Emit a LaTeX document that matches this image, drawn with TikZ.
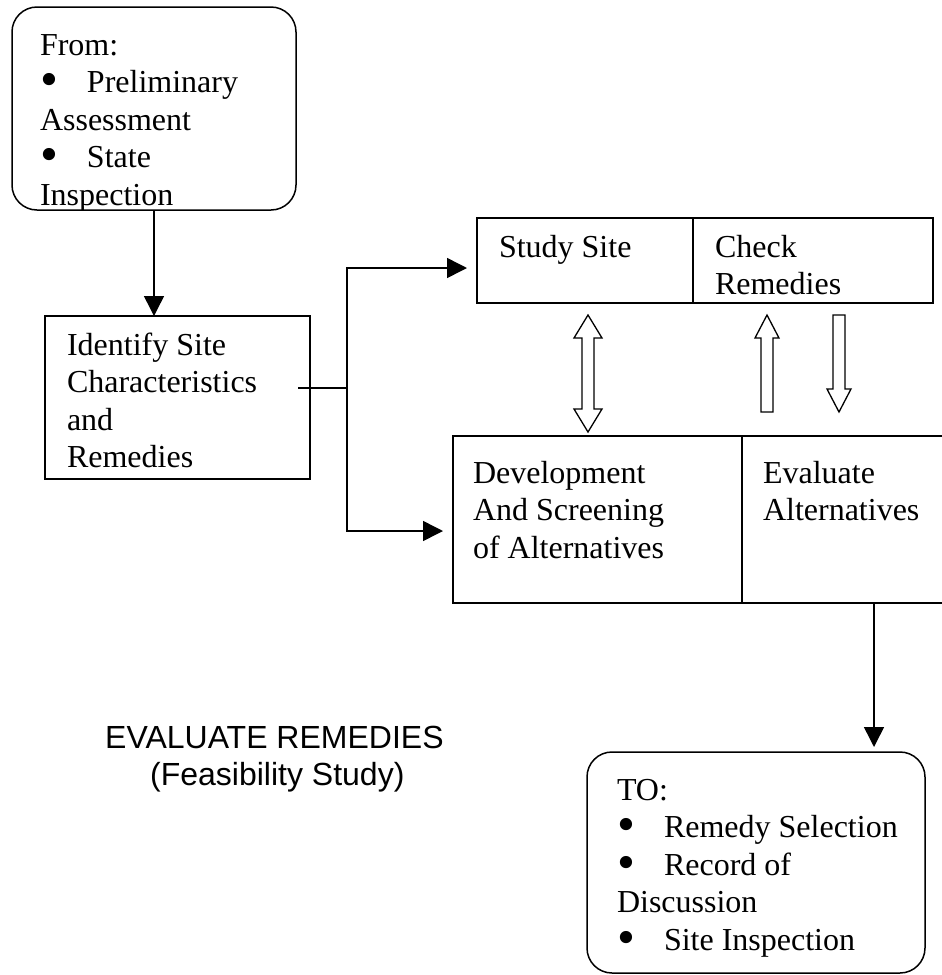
\documentclass[tikz,border=0pt]{standalone}
\usepackage{graphicx}
\usepackage{fontspec}
\setmainfont{Liberation Serif}
\newfontfamily\arialfont{Liberation Sans}
\usetikzlibrary{arrows.meta}
\newcommand{\bul}{\makebox[47pt][l]{\raisebox{-4pt}[0pt][0pt]{\scalebox{1.6}{\textbullet}}}}
\begin{document}
\begin{tikzpicture}[x=1pt,y=-1pt,
  boxstyle/.style={draw, line width=1.5pt, inner sep=0pt, outer sep=0pt, anchor=north west},
  txt/.style={anchor=base west, inner sep=0pt, outer sep=0pt, font=\fontsize{32}{37.5}\selectfont},
  conn/.style={line width=1.5pt},
  tip/.style={-{Triangle[length=20pt,width=20pt]}},
  hollow/.style={draw, line width=1.3pt, fill=white, line join=miter}]
\useasboundingbox (0,0) rectangle (942,975);

% boxes
\node[boxstyle, rounded corners=25pt, minimum width=284pt, minimum height=203pt] (from) at (12,7) {};
\node[boxstyle, minimum width=265pt, minimum height=163pt] (ident) at (45,316) {};
\node[boxstyle, minimum width=216pt, minimum height=85pt] (study) at (477,218) {};
\node[boxstyle, minimum width=240pt, minimum height=85pt] (check) at (693,218) {};
\node[boxstyle, minimum width=289pt, minimum height=167pt] (dev) at (453,436) {};
\node[boxstyle, minimum width=204pt, minimum height=167pt] (eval) at (742,436) {};
\node[boxstyle, rounded corners=25pt, minimum width=338pt, minimum height=221pt] (to) at (587,752) {};

% texts
\begin{scope}
\clip[rounded corners=25pt] (12,7) rectangle (296,210);
\node[txt] (fromtxt) at (40,55) {\parbox[t]{250pt}{From:\\\bul Preliminary\\Assessment\\\bul State\\Inspection}};
\end{scope}
\node[txt] (identtxt) at (67,355) {\parbox[t]{240pt}{Identify Site\\Characteristics\\and\\Remedies}};
\node[txt] (studytxt) at (499,257) {Study Site};
\node[txt] (checktxt) at (715,257) {\parbox[t]{210pt}{Check\\Remedies}};
\node[txt] (devtxt) at (473,483) {\parbox[t]{260pt}{Development\\And Screening\\of Alternatives}};
\node[txt] (evaltxt) at (763,483) {\parbox[t]{180pt}{Evaluate\\Alternatives}};
\node[txt] (totxt) at (617,800) {\parbox[t]{300pt}{TO:\\\bul Remedy Selection\\\bul Record of\\Discussion\\\bul Site Inspection}};
\node[anchor=base west, inner sep=0pt, font=\arialfont\fontsize{32}{37.5}\selectfont] (title) at (105,748) {EVALUATE REMEDIES};
\node[anchor=base west, inner sep=0pt, font=\arialfont\fontsize{32}{37.5}\selectfont] (subtitle) at (150,785) {(Feasibility Study)};

% connectors
\draw[conn, tip] (from.south) -- (from.south |- ident.north);
\coordinate (cstart) at (298,388);
\coordinate (split) at (347,388);
\coordinate (jt) at (347,268);
\coordinate (jb) at (347,531);
\draw[conn] (cstart) -- (split);
\draw[conn, {Triangle[length=20pt,width=20pt]}-{Triangle[length=20pt,width=20pt]}, shorten <=10pt, shorten >=10pt]
  (study.west |- jt) -- (jt) -- (jb) -- (dev.west |- jb);
\draw[conn, tip, shorten >=5pt] ([xshift=30pt]eval.south) -- ([xshift=30pt]eval.south |- to.north);

% hollow arrows
\draw[hollow] (582,409) -- (582,338) -- (574,338) -- (588,315) -- (602,338) -- (594,338)
  -- (594,409) -- (602,409) -- (588,432) -- (574,409) -- cycle;
\draw[hollow] (761,412) -- (761,338) -- (755,338) -- (767,315) -- (779,338) -- (773,338) -- (773,412) -- cycle;
\draw[hollow] (833,315) -- (845,315) -- (845,389) -- (851,389) -- (839,412) -- (827,389) -- (833,389) -- cycle;
\end{tikzpicture}
\end{document}
